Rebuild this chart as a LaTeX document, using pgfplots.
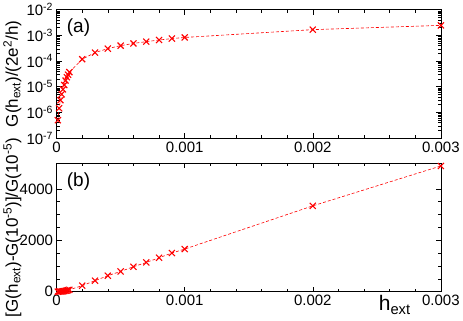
\documentclass[border=0pt]{standalone}
\usepackage{fontspec}
\setmainfont{Liberation Sans}
\usepackage{pgfplots}
\usepackage{pgfplotstable}
\pgfplotsset{compat=1.18}

\pgfplotstableread{
h G
1e-5 5.0e-7
2e-5 1.45e-6
3e-5 3.0e-6
4e-5 5.1e-6
5e-5 7.9e-6
6e-5 1.17e-5
7e-5 1.74e-5
8e-5 2.34e-5
9e-5 2.95e-5
1e-4 3.7e-5
2e-4 1.18e-4
3e-4 2.14e-4
4e-4 3.05e-4
5e-4 3.98e-4
6e-4 4.85e-4
7e-4 5.7e-4
8e-4 6.6e-4
9e-4 7.5e-4
1e-3 8.3e-4
2e-3 1.67e-3
3e-3 2.45e-3
}\dataA

\pgfplotstableread{
h R
1e-5 0
2e-5 1.9
3e-5 5
4e-5 9.2
5e-5 14.8
6e-5 22.4
7e-5 33.8
8e-5 45.8
9e-5 59
1e-4 73
2e-4 233
3e-4 427
4e-4 621
5e-4 788
6e-4 970
7e-4 1138
8e-4 1320
9e-4 1503
1e-3 1658
2e-3 3340
3e-3 4893
}\dataB

\pgfplotsset{
  myax/.style={
    scale only axis, width=383bp, height=128bp,
    xmin=0, xmax=0.003,
    scaled x ticks=false,
    xtick={0,0.001,0.002,0.003},
    xticklabels={0,0.001,0.002,0.003},
    minor x tick num=4,
    tick align=inside,
    major tick length=5bp, minor tick length=3bp,
    tick style={black, line width=0.5pt},
    axis line style={line width=0.8pt},
    clip=false,
    tick label style={font=\fontsize{15}{15}\selectfont},
    ylabel style={font=\fontsize{17}{17}\selectfont, at={(axis description cs:-0.115,0.5)}, anchor=center},
  },
  myplot/.style={red, densely dashed, line width=0.6pt, mark=x, mark size=4.3pt,
    mark options={solid, line width=1.1pt, red}},
}

\begin{document}
\begin{tikzpicture}
\begin{axis}[myax,
  ymode=log, ymin=1e-7, ymax=1e-2,
  ytick={1e-7,1e-6,1e-5,1e-4,1e-3,1e-2},
  yticklabels={10\textsuperscript{-7},10\textsuperscript{-6},10\textsuperscript{-5},10\textsuperscript{-4},10\textsuperscript{-3},10\textsuperscript{-2}},
  ylabel={G(h\textsubscript{ext})/(2e\textsuperscript{2}/h)},
]
\addplot[myplot] table[x=h,y=G] {\dataA};
\node[font=\fontsize{19}{19}\selectfont] at (axis description cs:0.057,0.86) {(a)};
\end{axis}
\begin{axis}[myax, at={(0,-153bp)},
  ymin=0, ymax=5000,
  ytick={0,2000,4000},
  yticklabels={0,2000,4000},
  minor y tick num=3,
  ylabel={[G(h\textsubscript{ext})-G(10\textsuperscript{-5})]/G(10\textsuperscript{-5})},
  xlabel={h\textsubscript{ext}},
  xlabel style={font=\fontsize{21}{21}\selectfont, at={(axis description cs:0.88,-0.03)}, anchor=north, inner sep=0pt},
]
\addplot[myplot] table[x=h,y=R] {\dataB};
\node[font=\fontsize{19}{19}\selectfont] at (axis description cs:0.057,0.86) {(b)};
\end{axis}
\end{tikzpicture}
\end{document}
